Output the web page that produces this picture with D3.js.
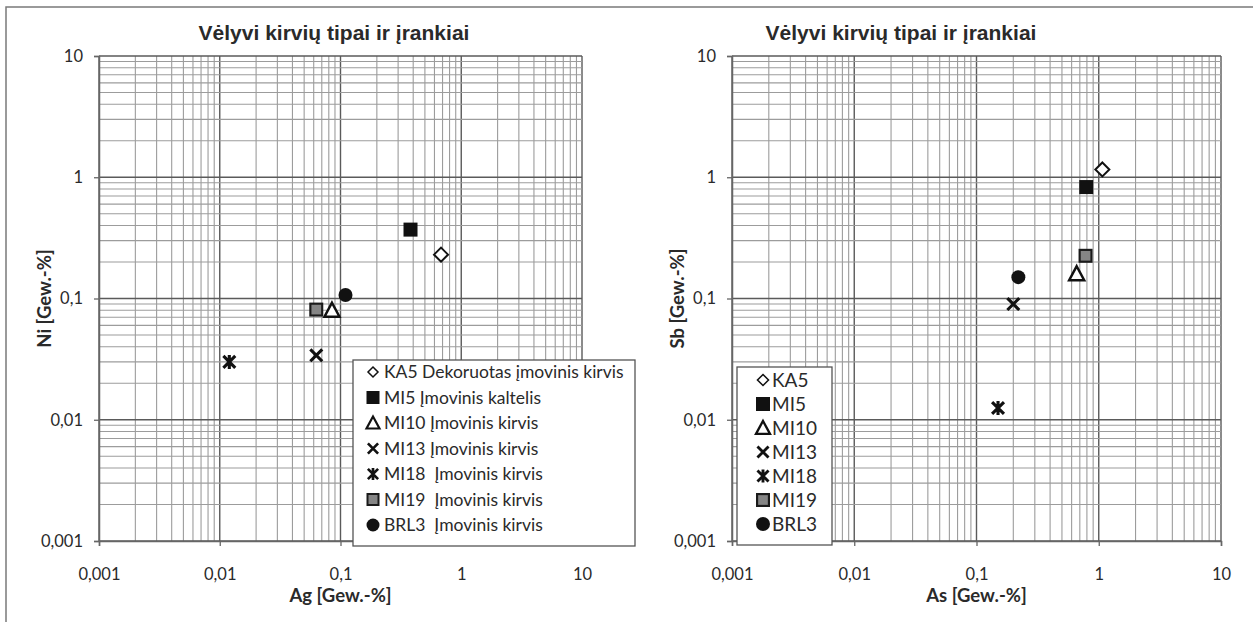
<!DOCTYPE html>
<html><head><meta charset="utf-8">
<script src="https://cdn.jsdelivr.net/npm/d3@7"></script>
<style>
html,body{margin:0;padding:0;background:#fff;}
svg{display:block;}
text{fill:#2a2a2a;}
.leg{white-space:pre;}
</style></head>
<body>
<svg id="c" width="1253" height="622"></svg>
<script>
// ---- data ----
const chartTitle = "Vėlyvi kirvių tipai ir įrankiai";
const sampleIds = ["KA5","MI5","MI10","MI13","MI18","MI19","BRL3"];
const markerTypes = ["diamond","square","triangle","cross","star","graysquare","circle"];
const leftLegendLabels = ["KA5 Dekoruotas įmovinis kirvis","MI5 Įmovinis kaltelis","MI10 Įmovinis kirvis","MI13 Įmovinis kirvis","MI18  Įmovinis kirvis","MI19  Įmovinis kirvis","BRL3  Įmovinis kirvis"];
const rightLegendLabels = ["KA5","MI5","MI10","MI13","MI18","MI19","BRL3"];
const agValues = [0.68, 0.38, 0.085, 0.063, 0.012, 0.063, 0.11];
const niValues = [0.23, 0.37, 0.08, 0.034, 0.030, 0.081, 0.107];
const asValues = [1.07, 0.79, 0.66, 0.20, 0.15, 0.78, 0.22];
const sbValues = [1.16, 0.83, 0.16, 0.09, 0.0125, 0.225, 0.15];
const tickValues = [0.001, 0.01, 0.1, 1, 10];
const tickLabels = ["0,001", "0,01", "0,1", "1", "10"];

const svg = d3.select("#c");
// outer frame
svg.append("rect").attr("x",6).attr("y",7).attr("width",1262).attr("height",630)
  .attr("fill","none").attr("stroke","#7a7a7a").attr("stroke-width",1.5);

function markerPath(g, type, cx, cy, s){
  const h = s/2;
  const el = g.append("g").attr("transform",`translate(${cx},${cy})`);
  if(type==="diamond"){
    el.append("path").attr("d",`M0,${-h}L${h},0L0,${h}L${-h},0Z`).attr("fill","#fff").attr("stroke","#111").attr("stroke-width",Math.max(1.5,s/7));
  } else if(type==="square"){
    el.append("rect").attr("x",-h).attr("y",-h).attr("width",s).attr("height",s).attr("fill","#111");
  } else if(type==="graysquare"){
    const sw = Math.max(1.5,s/6.5);
    el.append("rect").attr("x",-h+sw/2).attr("y",-h+sw/2).attr("width",s-sw).attr("height",s-sw).attr("fill","#858585").attr("stroke","#1a1a1a").attr("stroke-width",sw);
  } else if(type==="triangle"){
    el.append("path").attr("d",`M0,${-h}L${h},${h*0.85}L${-h},${h*0.85}Z`).attr("fill","#fff").attr("stroke","#111").attr("stroke-width",Math.max(1.5,s/6)).attr("stroke-linejoin","miter");
  } else if(type==="cross"){
    const k=h*0.85;
    el.append("path").attr("d",`M${-k},${-k}L${k},${k}M${k},${-k}L${-k},${k}`).attr("stroke","#111").attr("stroke-width",Math.max(2,s/4.5));
  } else if(type==="star"){
    const k=h*0.85;
    el.append("path").attr("d",`M${-k},${-k}L${k},${k}M${k},${-k}L${-k},${k}M0,${-h}L0,${h}`).attr("stroke","#111").attr("stroke-width",Math.max(2,s/4.5));
  } else if(type==="circle"){
    el.append("circle").attr("r",h).attr("fill","#111");
  }
}

function drawChart(cfg){
  const {x0,x1,y0,y1} = cfg;
  const x = d3.scaleLog().domain([0.001,10]).range([x0,x1]);
  const y = d3.scaleLog().domain([0.001,10]).range([y1,y0]);
  const g = svg.append("g");
  g.append("text").attr("x",cfg.titleX).attr("y",40).attr("text-anchor","middle")
    .attr("font-family","Liberation Sans, Arial, sans-serif").attr("font-weight","bold").attr("font-size",21)
    .text(chartTitle);
  const gridVals = [];
  for(let d=-3; d<=0; d++){ for(let k=1;k<=9;k++){ gridVals.push({v:k*Math.pow(10,d), major:k===1}); } }
  gridVals.push({v:10, major:true});
  g.selectAll(".vg").data(gridVals).join("line")
    .attr("x1",d=>x(d.v)).attr("x2",d=>x(d.v)).attr("y1",y0).attr("y2",y1)
    .attr("stroke",d=>d.major?"#5a5a5a":"#9c9c9c").attr("stroke-width",d=>d.major?1.4:1.1);
  g.selectAll(".hg").data(gridVals).join("line")
    .attr("y1",d=>y(d.v)).attr("y2",d=>y(d.v)).attr("x1",x0).attr("x2",x1)
    .attr("stroke",d=>d.major?"#5a5a5a":"#9c9c9c").attr("stroke-width",d=>d.major?1.4:1.1);
  const xa = d3.axisBottom(x).tickValues(tickValues).tickFormat((d,i)=>tickLabels[i]).tickSize(5).tickPadding(22);
  const ya = d3.axisLeft(y).tickValues(tickValues).tickFormat((d,i)=>tickLabels[i]).tickSize(5).tickPadding(11);
  const gx = g.append("g").attr("transform",`translate(0,${y1})`).call(xa);
  const gy = g.append("g").attr("transform",`translate(${x0},0)`).call(ya);
  [gx,gy].forEach(a=>{
    a.select(".domain").attr("stroke","#666").attr("stroke-width",1.5);
    a.selectAll(".tick line").attr("stroke","#666").attr("stroke-width",1.3);
    a.selectAll(".tick text").attr("font-family","Lato, sans-serif").attr("font-size",16.5).attr("fill","#2a2a2a");
  });
  g.append("text").attr("x",(x0+x1)/2).attr("y",602).attr("text-anchor","middle")
    .attr("font-family","Lato, sans-serif").attr("font-weight","bold").attr("font-size",18.5).text(cfg.xTitle);
  g.append("text").attr("transform",`translate(${cfg.yTitleX},${(y0+y1)/2}) rotate(-90)`).attr("text-anchor","middle")
    .attr("font-family","Lato, sans-serif").attr("font-weight","bold").attr("font-size",18.5).text(cfg.yTitle);
  const pg = g.append("g");
  sampleIds.forEach((id,i)=>{
    markerPath(pg, markerTypes[i], x(cfg.xs[i]), y(cfg.ys[i]), markerTypes[i]==="circle"?14:(markerTypes[i]==="triangle"?15:14));
  });
  const L = cfg.legend;
  const lg = g.append("g");
  lg.append("rect").attr("x",L.x).attr("y",L.y).attr("width",L.w).attr("height",L.h)
    .attr("fill","#fff").attr("stroke","#555").attr("stroke-width",1.3);
  cfg.labels.forEach((lab,i)=>{
    const cy = L.y + L.first + i*L.step;
    const t = markerTypes[i];
    markerPath(lg, t, L.mx, cy, t==="diamond"?L.ms-2:(t==="star"||t==="cross"?L.ms:L.ms+1));
    lg.append("text").attr("class","leg").attr("x",L.tx).attr("y",cy).attr("dy","0.36em")
      .attr("font-family","Lato, sans-serif").attr("font-size",L.fs).text(lab);
  });
}

drawChart({x0:99,x1:582,y0:56,y1:541,titleX:334,xTitle:"Ag [Gew.-%]",yTitle:"Ni [Gew.-%]",yTitleX:51,
  xs:agValues, ys:niValues, labels:leftLegendLabels,
  legend:{x:353,y:360,w:282,h:186,first:12,step:25.5,mx:373,tx:384,fs:17.5,ms:12}});
drawChart({x0:732,x1:1221,y0:56,y1:541,titleX:901,xTitle:"As [Gew.-%]",yTitle:"Sb [Gew.-%]",yTitleX:684,
  xs:asValues, ys:sbValues, labels:rightLegendLabels,
  legend:{x:737,y:367,w:95,h:178,first:13,step:24,mx:763,tx:772,fs:19,ms:13}});
</script>
</body></html>
